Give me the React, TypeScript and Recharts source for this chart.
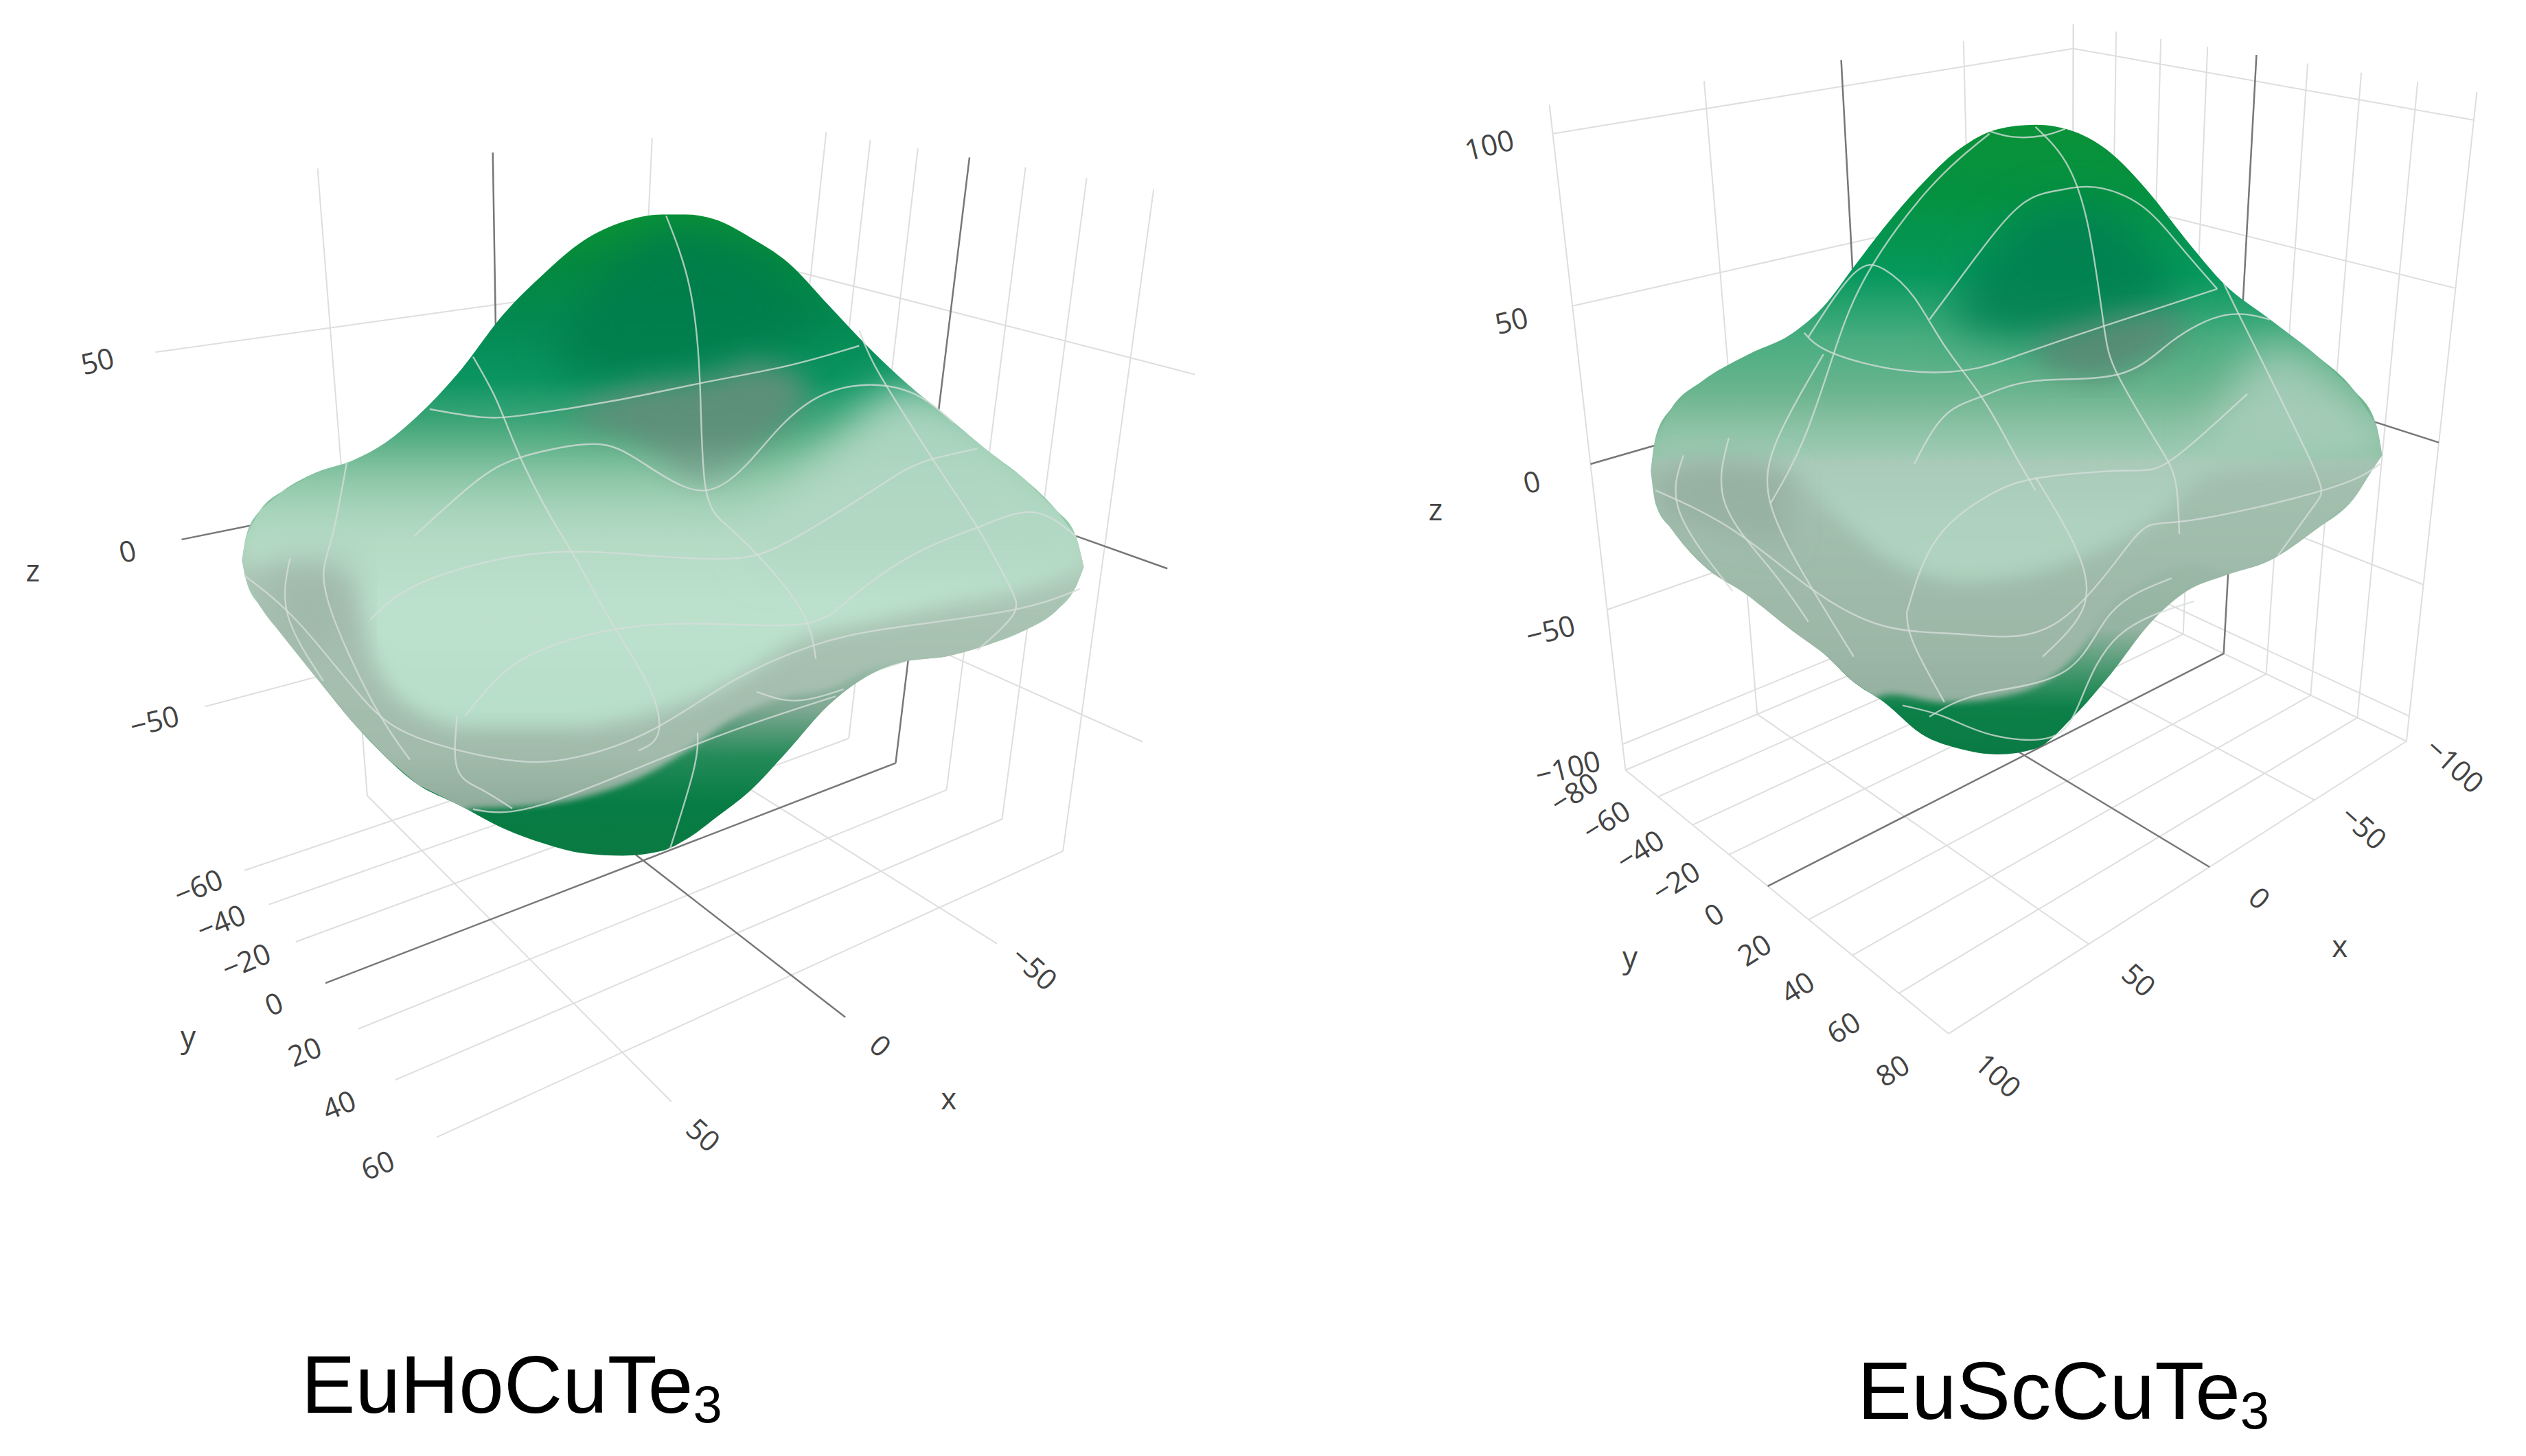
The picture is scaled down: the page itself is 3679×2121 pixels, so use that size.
import { Area, ComposedChart, Scatter, XAxis, YAxis } from "recharts";

const WIDTH = 3679;
const HEIGHT = 2121;
// the picture plane is measured in a 1568 x 904 frame
const FRAME_W = 1568;
const FRAME_H = 904;
const S = WIDTH / FRAME_W;

// ---------- EuHoCuTe3 ----------
const HO_TITLE = ["EuHoCuTe", "3"];
const HO_X_TICKS = [-50, 0, 50];
const HO_Y_TICKS = [-60, -40, -20, 0, 20, 40, 60];
const HO_Z_TICKS = [-50, 0, 50];

const HO_X = [150.2, 152.7, 161.5, 176.1, 195.7, 220.2, 239.8, 259.3, 283.8, 313.2, 337.6, 362.1, 386.5, 411, 425.7, 445.3, 464.8, 489.3, 513.8, 538.2, 562.7, 587.2, 611.6, 636.1, 655.7, 667.9, 672.8];
const HO_TOP = [347.9, 333, 316.7, 304.4, 293.6, 285.4, 274.5, 258.2, 232.4, 194.4, 169.9, 149.5, 137.8, 133.2, 133.2, 136.7, 146.8, 163.1, 188.9, 214.7, 237.9, 258.2, 278.6, 297.6, 316.7, 333, 352];
const HO_BOTTOM = [347.9, 360, 376.5, 395.5, 420, 449.9, 470.4, 487.1, 499.3, 514.6, 523.7, 529.8, 531.3, 528.3, 521.3, 507, 491.7, 465.8, 438.4, 419.9, 410.4, 407.7, 400.9, 391.4, 379.2, 364.2, 352];

const HO_DARK_X = [345, 380, 420, 460, 510];
const HO_DARK_TOP = [210, 165, 140, 150, 195];
const HO_DARK_BOTTOM = [225, 235, 232, 222, 205];
const HO_SHADE_X = [355, 395, 435, 470, 500];
const HO_SHADE_TOP = [255, 240, 235, 225, 235];
const HO_SHADE_BOTTOM = [262, 275, 302, 280, 250];
const HO_NOTCH_X = [165, 190, 218];
const HO_NOTCH_TOP = [352, 348, 350];
const HO_NOTCH_BOTTOM = [385, 410, 405];
const HO_LIGHT_X = [470, 520, 560, 600, 640, 673];
const HO_LIGHT_TOP = [325, 270, 240, 250, 285, 335];
const HO_LIGHT_BOTTOM = [350, 350, 350, 350, 350, 350];

const HO_PALE_X = [150, 190, 215, 230, 250, 294, 352, 406, 455, 499, 538, 587, 636, 673];
const HO_PALE_TOP = HO_PALE_X.map(() => 270);
const HO_PALE_BOTTOM = [352, 352, 360, 405, 436, 452, 452, 443, 423, 396, 387, 376, 366, 352];
const HO_RIM_X = [150, 200, 250, 294, 323, 362, 401, 431, 455, 480, 519, 538, 562, 600, 673];
const HO_RIM_BOTTOM = [540, 540, 540, 502, 501, 495, 481, 463, 446, 435, 426, 416, 412, 420, 420];

// lines drawn on the surface, as read in the picture plane
const HO_MESH = [
  [[413.5, 134], [428, 178], [434.5, 238], [438, 303], [452.6, 327.5], [477, 352], [499, 382], [506.4, 409]],
  [[266.7, 254], [298.5, 259], [327.8, 257.4], [381.7, 248.7], [435.5, 237.8], [489.3, 227], [533.3, 214.7]],
  [[257, 333], [293.6, 300.4], [323, 284], [362, 276], [386.5, 280], [411, 295], [438, 304.5], [462.4, 289.5], [484.4, 265], [509, 246], [538.2, 239], [567.6, 244.6], [592, 262.3]],
  [[293.6, 221.5], [308.3, 248.7], [323, 284], [342.5, 322], [357.2, 346.6], [381.7, 390], [403.7, 428], [408.6, 455.3], [396.3, 466]],
  [[230, 384.6], [259.3, 362.9], [313.2, 346.6], [362, 342.5], [406, 345.2], [450, 347], [479.5, 341], [513.8, 322], [548, 300.4], [572.5, 287], [606.7, 278.6]],
  [[288.7, 444.4], [313.2, 417.2], [342.5, 401], [386.5, 390], [440.4, 387.3], [499, 387.3], [528.4, 371], [567.6, 344], [606.7, 327.5], [641, 318], [667.9, 333]],
  [[151.7, 357.4], [186, 387.3], [225, 433.5], [259.3, 458], [313.2, 471.6], [357.2, 470.3], [406, 452.6], [455, 422.7], [504, 401], [553, 390], [626.3, 379.2], [670.4, 365.6]],
  [[533.3, 205.2], [543, 227], [562.7, 259.6], [587.2, 297.6], [606.7, 327.5], [626.3, 363], [628.7, 382], [606.7, 403.7]],
  [[180, 346.6], [178.6, 381.9], [200.6, 422.7]],
  [[215.3, 286.8], [205.5, 335.7], [203, 371], [230, 433.5], [254.4, 471.6]],
  [[283.8, 444.4], [283.8, 477], [298.5, 490], [318, 502]],
  [[433, 455], [430.6, 478], [416, 526.7]],
  [[293.6, 502.4], [337.6, 499.3], [430.6, 462.8], [518.7, 432.3]],
  [[469.7, 429.5], [494.2, 435], [523.6, 428]],
];

// ---------- EuScCuTe3 ----------
const SC_TITLE = ["EuScCuTe", "3"];
const SC_X_TICKS = [-100, -50, 0, 50, 100];
const SC_Y_TICKS = [-80, -60, -40, -20, 0, 20, 40, 60, 80];
const SC_Z_TICKS = [-100, -50, 0, 50, 100];

const SC_X = [1024.7, 1027.6, 1037.9, 1056.7, 1084.9, 1113.1, 1131.9, 1150.7, 1169.5, 1193, 1216.5, 1240, 1263.5, 1287, 1310.5, 1334, 1357.5, 1381, 1409.2, 1437.4, 1460.9, 1475, 1478.8];
const SC_TOP = [292.2, 271.8, 252.8, 236.5, 220.2, 206.6, 190.3, 165.8, 141.3, 114.2, 92.4, 80.2, 77.5, 81.5, 95.1, 119.6, 149.5, 176.7, 198.4, 220.2, 241.9, 263.6, 282.7];
const SC_BOTTOM = [292.2, 312.6, 328.9, 350.6, 369.6, 392, 405.6, 423.6, 436, 455.9, 464.9, 468.4, 464.9, 445, 418.2, 387.7, 367, 357.4, 347.9, 328.9, 309.9, 288.1, 282.7];

const SC_DARK_X = [1215, 1250, 1290, 1320, 1350];
const SC_DARK_TOP = [190, 140, 125, 140, 175];
const SC_DARK_BOTTOM = [205, 210, 212, 200, 190];
const SC_SHADE_X = [1265, 1300, 1330, 1355];
const SC_SHADE_TOP = [212, 200, 195, 195];
const SC_SHADE_BOTTOM = [225, 235, 225, 210];
const SC_NOTCH_X = [1030, 1070, 1110];
const SC_NOTCH_TOP = [290, 285, 290];
const SC_NOTCH_BOTTOM = [320, 330, 340];
const SC_LIGHT_X = [1370, 1410, 1450, 1479];
const SC_LIGHT_TOP = [270, 215, 235, 275];
const SC_LIGHT_BOTTOM = [280, 280, 280, 280];

const SC_PALE_X = [1026, 1066, 1113, 1137, 1174, 1221, 1278, 1339, 1372, 1428, 1479];
const SC_PALE_TOP = SC_PALE_X.map(() => 245);
const SC_PALE_BOTTOM = [288, 288, 296, 318, 348, 361, 351, 321, 294, 283, 277];
const SC_RIM_X = [1025, 1100, 1174, 1207, 1249, 1292, 1306, 1329, 1362, 1386, 1479];
const SC_RIM_BOTTOM = [480, 480, 431, 436, 431, 402, 380, 362, 350, 356, 360];

const SC_MESH = [
  [[1235, 81.5], [1249.4, 85], [1268, 84.3], [1282, 80]],
  [[1263.5, 78.8], [1282.3, 100.6], [1296.4, 141.3], [1305.8, 201], [1315, 233.7], [1338.7, 274.5], [1350.4, 299], [1352.8, 331.6]],
  [[1197.7, 198.4], [1225.9, 160.4], [1254, 127.7], [1277.6, 118.2], [1301, 116.3], [1329.3, 127.7], [1352.8, 152.2], [1376.3, 179.4]],
  [[1235, 83], [1197.7, 116.9], [1160, 168.5], [1139, 217.4], [1120, 271.8], [1099, 312.6]],
  [[1122.5, 209.3], [1150.7, 169.9], [1169.5, 167.2], [1188.3, 184.8], [1207.1, 214.7], [1230.6, 247.3], [1249.4, 280], [1263.5, 304.4]],
  [[1120, 206.6], [1136.6, 218.8], [1179, 229.7], [1221.2, 229.7], [1254, 220.2], [1305.8, 202.5], [1376.3, 179.4]],
  [[1188.3, 288], [1207.1, 258.2], [1230.6, 246], [1263.5, 236.5], [1315, 232.4], [1348.1, 212], [1381, 195.7], [1409, 198.4]],
  [[1183.6, 380.5], [1202.4, 334.3], [1235.3, 307.1], [1268.2, 296.3], [1319.9, 292.2], [1348.1, 285.4], [1395, 244.6]],
  [[1027.6, 304.4], [1075.5, 328.9], [1122.5, 364.2], [1169.5, 388.7], [1221.2, 394], [1277.6, 386], [1324.6, 334.3], [1357.5, 323.4], [1442, 304.4], [1477.4, 288]],
  [[1045, 282.7], [1042.6, 318], [1075.5, 367]],
  [[1073.2, 271.8], [1070.8, 312.6], [1099, 353.3], [1122.5, 386]],
  [[1131.9, 220], [1103.7, 271.8], [1099, 312.6], [1122.5, 361.5], [1150.7, 407.7]],
  [[1263.5, 296.3], [1287, 337], [1294, 375], [1268, 407.7]],
  [[1183.6, 380.5], [1188, 400], [1207, 436]],
  [[1181, 438], [1207, 445], [1235.3, 456], [1273, 457.7], [1291.7, 434.3], [1315, 394.9], [1362, 373.3]],
  [[1197.7, 445], [1230.6, 430.7], [1282.3, 416.4], [1310.5, 380.5], [1348, 359]],
  [[1381, 176.7], [1390, 195.7], [1432.7, 282.7], [1437.4, 312.6], [1414, 345]],
];

type Camera = {
  // floor corner nearest the viewer and the far ends of its two edges,
  // the same three corners at the top of the box, and the depth factors
  floor: number[][];
  roof: number[][];
  depth: number[];
  rise: number;
  xr: number[];
  yr: number[];
  zr: number[];
};

const HO_CAMERA: Camera = {
  floor: [[297, 742], [697, 548], [139, 523]],
  roof: [[225, 195], [757, 125], [82, 115]],
  depth: [0.308, 0.506],
  rise: -0.19,
  xr: [98, -97],
  yr: [78, -78],
  zr: [-95, 90],
};

const SC_CAMERA: Camera = {
  floor: [[1209.5, 641.8], [1493.8, 460.2], [1009, 478.1]],
  roof: [[1206, 134], [1537.5, 57], [961.8, 65]],
  depth: [0.3256, 0.27],
  rise: -0.164,
  xr: [100, -100],
  yr: [80, -80],
  zr: [-110, 108],
};

function project(cam: Camera, x: number, y: number, z: number) {
  const u = (x - cam.xr[0]) / (cam.xr[1] - cam.xr[0]);
  const v = (y - cam.yr[0]) / (cam.yr[1] - cam.yr[0]);
  const w = (z - cam.zr[0]) / (cam.zr[1] - cam.zr[0]);
  const [a, b] = cam.depth;
  const h = 1 + a * u + b * v;
  const f = (w * (1 + cam.rise)) / (1 + cam.rise * w);
  const plane = ([o, ex, ey]: number[][], i: number) =>
    (o[i] + u * ((1 + a) * ex[i] - o[i]) + v * ((1 + b) * ey[i] - o[i])) / h;
  const at = (i: number) => plane(cam.floor, i) + f * (plane(cam.roof, i) - plane(cam.floor, i));
  return { x: at(0), y: at(1) };
}

function gridLines(cam: Camera, xTicks: number[], yTicks: number[], zTicks: number[]) {
  const [xFront, xBack] = cam.xr;
  const [yFront, yBack] = cam.yr;
  const [zLow, zHigh] = cam.zr;
  const lines: { pts: { x: number; y: number }[]; zero: boolean }[] = [];
  const add = (a: { x: number; y: number }, b: { x: number; y: number }, tick: number) =>
    lines.push({ pts: [a, b], zero: tick === 0 });
  xTicks.forEach((t) => {
    add(project(cam, t, yBack, zLow), project(cam, t, yFront, zLow), t);
    add(project(cam, t, yBack, zLow), project(cam, t, yBack, zHigh), t);
  });
  yTicks.forEach((t) => {
    add(project(cam, xFront, t, zLow), project(cam, xBack, t, zLow), t);
    add(project(cam, xBack, t, zLow), project(cam, xBack, t, zHigh), t);
  });
  zTicks.forEach((t) => {
    add(project(cam, xFront, yBack, t), project(cam, xBack, yBack, t), t);
    add(project(cam, xBack, yBack, t), project(cam, xBack, yFront, t), t);
  });
  // zero planes sit on top of the light lines
  return lines.sort((p, q) => Number(p.zero) - Number(q.zero));
}

const tickText = (t: number) => (t < 0 ? `\u2212${Math.abs(t)}` : `${t}`);

function band(xs: number[], top: number[], bottom: number[]) {
  return xs.map((x, i) => ({ x, band: [top[i], bottom[i]] }));
}

function outline(xs: number[], top: number[], bottom: number[]) {
  const upper = xs.map((x, i) => `${x * S},${top[i] * S}`);
  const lower = xs.map((x, i) => `${x * S},${bottom[i] * S}`).reverse();
  return `M${upper.join("L")}L${lower.join("L")}Z`;
}

function gradient(id: string, stops: [number, string, number?][]) {
  const y1 = stops[0][0];
  const y2 = stops[stops.length - 1][0];
  return (
    <linearGradient id={id} gradientUnits="userSpaceOnUse" x1={0} x2={0} y1={y1 * S} y2={y2 * S}>
      {stops.map(([y, color, alpha], i) => (
        <stop key={i} offset={(y - y1) / (y2 - y1)} stopColor={color} stopOpacity={alpha ?? 1} />
      ))}
    </linearGradient>
  );
}

function blur(id: string, amount: number) {
  return (
    <filter id={id} x="-30%" y="-30%" width="160%" height="160%">
      <feGaussianBlur stdDeviation={amount} />
    </filter>
  );
}

const NoDot = () => null;

function tickLabels(
  name: string,
  rows: { x: number; y: number; label: string }[],
  angle: number,
  size: number,
) {
  return (
    <Scatter
      key={name}
      name={name}
      data={rows}
      isAnimationActive={false}
      shape={(p: any) => (
        <text
          x={p.cx}
          y={p.cy}
          transform={`rotate(${angle} ${p.cx} ${p.cy})`}
          textAnchor="middle"
          dominantBaseline="central"
          fontFamily="'Open Sans'"
          fontSize={size}
          fill="#444"
        >
          {p.payload.label}
        </text>
      )}
    />
  );
}

function axisLabels(
  id: string,
  cam: Camera,
  xTicks: number[],
  yTicks: number[],
  zTicks: number[],
  pad: { xTick: number; yTick: number; zTick: number; xName: number; yName: number; zName: number },
  rot: { x: number; y: number; z: number },
) {
  const [xFront] = cam.xr;
  const [yFront, yBack] = cam.yr;
  const zLow = cam.zr[0];
  const xRows = xTicks.map((t) => ({ ...project(cam, t, yFront + pad.xTick, zLow), label: tickText(t) }));
  const yRows = yTicks.map((t) => ({ ...project(cam, xFront + pad.yTick, t, zLow), label: tickText(t) }));
  const zRows = zTicks.map((t) => ({ ...project(cam, xFront + pad.zTick, yBack, t), label: tickText(t) }));
  return [
    tickLabels(`${id}-x`, xRows, rot.x, 42),
    tickLabels(`${id}-y`, yRows, rot.y, 42),
    tickLabels(`${id}-z`, zRows, rot.z, 42),
    tickLabels(`${id}-xname`, [{ ...project(cam, 0, yFront + pad.xName, zLow), label: "x" }], 0, 44),
    tickLabels(`${id}-yname`, [{ ...project(cam, xFront + pad.yName, 0, zLow), label: "y" }], 0, 44),
    tickLabels(`${id}-zname`, [{ ...project(cam, xFront + pad.zName, yBack, 0), label: "z" }], 0, 44),
  ];
}

function shapeArea(id: string, rows: { x: number; band: number[] }[], fill: string, clip?: string, filter?: string, opacity = 1) {
  return (
    <Area
      key={id}
      data={rows}
      dataKey="band"
      type="monotoneX"
      stroke="none"
      fill={fill}
      fillOpacity={opacity}
      dot={false}
      activeDot={false}
      isAnimationActive={false}
      clipPath={clip ? `url(#${clip})` : undefined}
      filter={filter ? `url(#${filter})` : undefined}
    />
  );
}

function meshLines(id: string, mesh: number[][][]) {
  return mesh.map((curve, i) => (
    <Scatter
      key={`${id}-${i}`}
      data={curve.map(([x, y]) => ({ x, y }))}
      line={{ stroke: "#d6dedA", strokeWidth: 2.4, strokeOpacity: 0.78 }}
      lineType="joint"
      lineJointType="natural"
      shape={NoDot}
      isAnimationActive={false}
    />
  ));
}

function gridSeries(id: string, lines: ReturnType<typeof gridLines>) {
  return lines.map((l, i) => (
    <Scatter
      key={`${id}-${i}`}
      data={l.pts}
      line={{ stroke: l.zero ? "#777" : "#dedede", strokeWidth: l.zero ? 2.5 : 2 }}
      lineType="joint"
      shape={NoDot}
      isAnimationActive={false}
    />
  ));
}

function title(id: string, x: number, y: number, parts: string[]) {
  return (
    <Scatter
      key={id}
      data={[{ x, y }]}
      isAnimationActive={false}
      shape={(p: any) => (
        <text x={p.cx} y={p.cy} fontFamily="'Liberation Sans'" fontSize={118} fill="#000">
          {parts[0]}
          <tspan fontSize={76} dy={14}>
            {parts[1]}
          </tspan>
        </text>
      )}
    />
  );
}

const layer = { position: "absolute", left: 0, top: 0 } as const;
const noMargin = { top: 0, right: 0, bottom: 0, left: 0 };

function FrameAxes() {
  return (
    <>
      <XAxis type="number" dataKey="x" domain={[0, FRAME_W]} hide allowDataOverflow />
      <YAxis type="number" dataKey="y" domain={[0, FRAME_H]} reversed hide allowDataOverflow />
    </>
  );
}

export default function App() {
  return (
    <div style={{ ...layer, width: WIDTH, height: HEIGHT, background: "#fff" }}>
      {/* the box grid lies behind the surface, so it gets its own chart underneath */}
      <div style={layer}>
        <ComposedChart width={WIDTH} height={HEIGHT} margin={noMargin}>
          {FrameAxes()}
          {gridSeries("hoGrid", gridLines(HO_CAMERA, HO_X_TICKS, HO_Y_TICKS, HO_Z_TICKS))}
          {gridSeries("scGrid", gridLines(SC_CAMERA, SC_X_TICKS, SC_Y_TICKS, SC_Z_TICKS))}
        </ComposedChart>
      </div>
      <div style={layer}>
        <ComposedChart width={WIDTH} height={HEIGHT} margin={noMargin}>
          {FrameAxes()}
          <defs>
            <clipPath id="hoClip">
              <path d={outline(HO_X, HO_TOP, HO_BOTTOM)} />
            </clipPath>
            <clipPath id="scClip">
              <path d={outline(SC_X, SC_TOP, SC_BOTTOM)} />
            </clipPath>
            {blur("soft30", 30)}
            {blur("soft20", 20)}
            {blur("soft14", 14)}
            {blur("soft5", 5)}
            {gradient("hoBase", [
              [133, "#0a9334"],
              [165, "#03893f"],
              [200, "#038a52"],
              [235, "#0a9460"],
              [270, "#4fab80"],
              [300, "#78bc97"],
              [340, "#a6d0b9"],
              [400, "#a5c4b2"],
              [440, "#7fa892"],
              [470, "#238a58"],
              [500, "#067c44"],
              [531, "#0a7a42"],
            ])}
            {gradient("hoPale", [
              [270, "#b6dcc6", 0],
              [345, "#b6dcc6", 1],
              [380, "#bce1cc", 1],
              [460, "#b6dec8", 1],
            ])}
            {gradient("hoRim", [
              [340, "#adc7b7"],
              [470, "#a1baaa"],
              [510, "#8aa897"],
            ])}
            {gradient("scBase", [
              [77, "#0a9238"],
              [120, "#049140"],
              [170, "#05985c"],
              [210, "#49ad80"],
              [250, "#70b691"],
              [290, "#93c4a9"],
              [340, "#9cb9a8"],
              [390, "#96b4a2"],
              [420, "#3d9468"],
              [440, "#0c8048"],
              [468, "#0a7a44"],
            ])}
            {gradient("scPale", [
              [245, "#aed2bf", 0],
              [320, "#aed2bf", 1],
              [365, "#b0d4c0", 1],
            ])}
            {gradient("scRim", [
              [285, "#a3c0af"],
              [400, "#9db7a7"],
              [480, "#8aa897"],
            ])}
          </defs>

          {shapeArea("hoBaseArea", band(HO_X, HO_TOP, HO_BOTTOM), "url(#hoBase)")}
          {shapeArea("hoDark", band(HO_DARK_X, HO_DARK_TOP, HO_DARK_BOTTOM), "#007c4a", "hoClip", "soft30", 0.85)}
          {shapeArea("hoShade", band(HO_SHADE_X, HO_SHADE_TOP, HO_SHADE_BOTTOM), "#5f8f79", "hoClip", "soft20", 0.95)}
          {shapeArea("hoRim", band(HO_RIM_X, HO_RIM_X.map(() => 340), HO_RIM_BOTTOM), "url(#hoRim)", "hoClip", "soft5")}
          {shapeArea("hoPale", band(HO_PALE_X, HO_PALE_TOP, HO_PALE_BOTTOM), "url(#hoPale)", "hoClip", "soft14")}
          {shapeArea("hoLight", band(HO_LIGHT_X, HO_LIGHT_TOP, HO_LIGHT_BOTTOM), "#b2d8c3", "hoClip", "soft30", 0.9)}
          {shapeArea("hoNotch", band(HO_NOTCH_X, HO_NOTCH_TOP, HO_NOTCH_BOTTOM), "#9fb7a9", "hoClip", "soft30", 0.85)}

          {shapeArea("scBaseArea", band(SC_X, SC_TOP, SC_BOTTOM), "url(#scBase)")}
          {shapeArea("scDark", band(SC_DARK_X, SC_DARK_TOP, SC_DARK_BOTTOM), "#007f4f", "scClip", "soft30", 0.85)}
          {shapeArea("scShade", band(SC_SHADE_X, SC_SHADE_TOP, SC_SHADE_BOTTOM), "#5a8a73", "scClip", "soft20", 0.9)}
          {shapeArea("scRim", band(SC_RIM_X, SC_RIM_X.map(() => 285), SC_RIM_BOTTOM), "url(#scRim)", "scClip", "soft5")}
          {shapeArea("scPale", band(SC_PALE_X, SC_PALE_TOP, SC_PALE_BOTTOM), "url(#scPale)", "scClip", "soft14")}
          {shapeArea("scLight", band(SC_LIGHT_X, SC_LIGHT_TOP, SC_LIGHT_BOTTOM), "#aed0bd", "scClip", "soft30", 0.8)}
          {shapeArea("scNotch", band(SC_NOTCH_X, SC_NOTCH_TOP, SC_NOTCH_BOTTOM), "#93ad9e", "scClip", "soft20", 0.7)}

          {meshLines("hoMesh", HO_MESH)}
          {meshLines("scMesh", SC_MESH)}

          {axisLabels(
            "ho",
            HO_CAMERA,
            HO_X_TICKS,
            HO_Y_TICKS,
            HO_Z_TICKS,
            { xTick: 11, yTick: 14, zTick: 15, xName: 30, yName: 36, zName: 40 },
            { x: 42, y: -22, z: -14 },
          )}
          {axisLabels(
            "sc",
            SC_CAMERA,
            SC_X_TICKS,
            SC_Y_TICKS,
            SC_Z_TICKS,
            { xTick: 19, yTick: 18, zTick: 19, xName: 47, yName: 44, zName: 48 },
            { x: 42, y: -32, z: -14 },
          )}
          {title("hoTitle", 187, 877, HO_TITLE)}
          {title("scTitle", 1153, 881, SC_TITLE)}
        </ComposedChart>
      </div>
    </div>
  );
}
